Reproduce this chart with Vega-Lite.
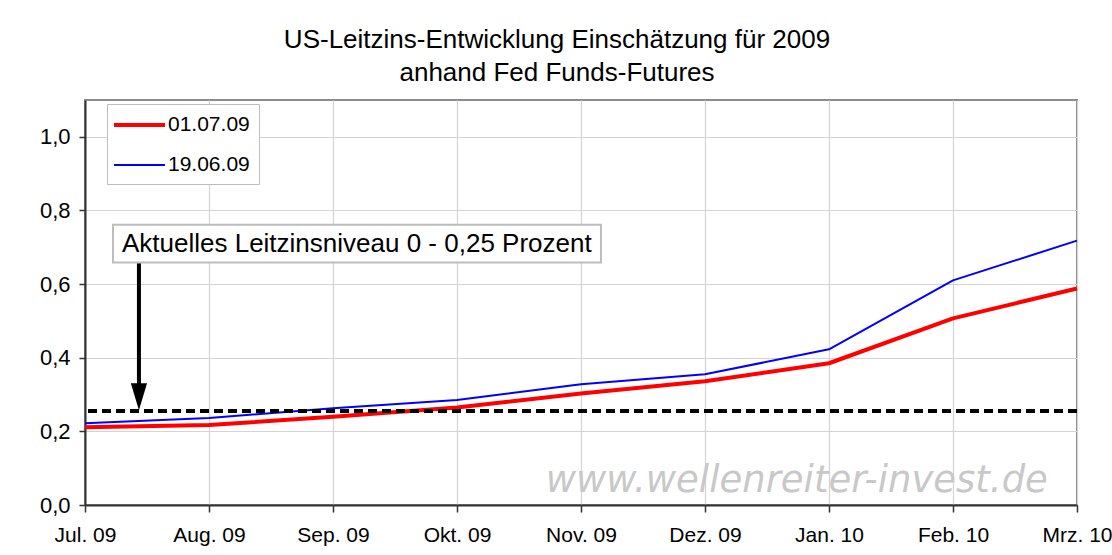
{
  "$schema": "https://vega.github.io/schema/vega-lite/v6.json",
  "width": 992,
  "height": 405,
  "autosize": "none",
  "padding": {"left": 85, "top": 100, "right": 35, "bottom": 50},
  "background": "white",
  "config": {
    "font": "Liberation Sans",
    "view": {"stroke": "#8c8c8c", "strokeWidth": 2},
    "axis": {"labelFont": "Liberation Sans", "labelFontSize": 20, "labelColor": "black", "gridColor": "#d4d4d4", "gridWidth": 1.2, "domainColor": "#333", "domainWidth": 2, "tickColor": "#333", "tickWidth": 1.5, "title": null}
  },
  "title": {
    "text": ["US-Leitzins-Entwicklung Einschätzung für 2009", "anhand Fed Funds-Futures"],
    "font": "Liberation Sans", "fontSize": 26, "fontWeight": "normal", "color": "black",
    "anchor": "middle", "dx": -24, "lineHeight": 33, "offset": 14
  },
  "datasets": {
    "rates": [
      {"m": 0, "month": "Jul. 09", "series": "01.07.09", "value": 0.211},
      {"m": 1, "month": "Aug. 09", "series": "01.07.09", "value": 0.217},
      {"m": 2, "month": "Sep. 09", "series": "01.07.09", "value": 0.240},
      {"m": 3, "month": "Okt. 09", "series": "01.07.09", "value": 0.265},
      {"m": 4, "month": "Nov. 09", "series": "01.07.09", "value": 0.303},
      {"m": 5, "month": "Dez. 09", "series": "01.07.09", "value": 0.336},
      {"m": 6, "month": "Jan. 10", "series": "01.07.09", "value": 0.385},
      {"m": 7, "month": "Feb. 10", "series": "01.07.09", "value": 0.507},
      {"m": 8, "month": "Mrz. 10", "series": "01.07.09", "value": 0.588},
      {"m": 0, "month": "Jul. 09", "series": "19.06.09", "value": 0.222},
      {"m": 1, "month": "Aug. 09", "series": "19.06.09", "value": 0.236},
      {"m": 2, "month": "Sep. 09", "series": "19.06.09", "value": 0.263},
      {"m": 3, "month": "Okt. 09", "series": "19.06.09", "value": 0.285},
      {"m": 4, "month": "Nov. 09", "series": "19.06.09", "value": 0.328},
      {"m": 5, "month": "Dez. 09", "series": "19.06.09", "value": 0.355},
      {"m": 6, "month": "Jan. 10", "series": "19.06.09", "value": 0.423},
      {"m": 7, "month": "Feb. 10", "series": "19.06.09", "value": 0.610},
      {"m": 8, "month": "Mrz. 10", "series": "19.06.09", "value": 0.718}
    ],
    "note": [
      {"x0": 0.226, "x1": 4.161, "y0": 0.6585, "y1": 0.7615, "tx": 0.298, "ty": 0.71, "ax": 0.435, "ay0": 0.6585, "ay1": 0.30, "tipY": 0.294, "level": 0.2555, "label": "Aktuelles Leitzinsniveau 0 - 0,25 Prozent"}
    ],
    "mark": [
      {"wx": 5.74, "wy": 0.065, "text": "www.wellenreiter-invest.de"}
    ]
  },
  "layer": [
    {
      "data": {"name": "mark"},
      "mark": {"type": "text", "font": "DejaVu Sans", "fontStyle": "italic", "fontSize": 37, "color": "#c8c8c8", "align": "center", "baseline": "middle"},
      "encoding": {
        "x": {"field": "wx", "type": "quantitative", "scale": {"domain": [0, 8], "nice": false, "zero": false}},
        "y": {"field": "wy", "type": "quantitative", "scale": {"domain": [0, 1.1], "nice": false}},
        "text": {"field": "text"}
      }
    },
    {
      "data": {"name": "rates"},
      "mark": {"type": "line", "strokeJoin": "round", "strokeCap": "butt"},
      "encoding": {
        "x": {
          "field": "m", "type": "quantitative",
          "scale": {"domain": [0, 8], "nice": false, "zero": false},
          "axis": {"values": [0, 1, 2, 3, 4, 5, 6, 7, 8], "labelExpr": "['Jul. 09','Aug. 09','Sep. 09','Okt. 09','Nov. 09','Dez. 09','Jan. 10','Feb. 10','Mrz. 10'][datum.value]", "labelFontSize": 21, "tickSize": 7, "labelPadding": 12, "labelFlush": false, "labelOverlap": false, "grid": true}
        },
        "y": {
          "field": "value", "type": "quantitative",
          "scale": {"domain": [0, 1.1], "nice": false},
          "axis": {"values": [0, 0.2, 0.4, 0.6, 0.8, 1.0], "labelExpr": "replace(format(datum.value, '.1f'), '.', ',')", "labelFontSize": 22, "tickSize": 6, "labelPadding": 9, "labelFlush": false, "grid": true}
        },
        "color": {
          "field": "series", "type": "nominal",
          "scale": {"domain": ["01.07.09", "19.06.09"], "range": ["#ff0000", "#0000ff"]},
          "legend": {"orient": "none", "legendX": 22, "legendY": 4, "title": null, "symbolType": "M-1.4,0L3.7,0", "symbolSize": 400, "labelFontSize": 21, "labelFont": "Liberation Sans", "labelColor": "black", "labelOffset": 28, "strokeColor": "#bdbdbd", "fillColor": "white", "padding": 9, "rowPadding": 19}
        },
        "strokeWidth": {
          "field": "series", "type": "nominal",
          "scale": {"domain": ["01.07.09", "19.06.09"], "range": [4, 2]},
          "legend": null
        },
        "order": {"field": "m"},
        "detail": {"field": "series"}
      }
    },
    {
      "data": {"name": "note"},
      "mark": {"type": "rule", "color": "black", "strokeWidth": 4, "strokeDash": [9, 5]},
      "encoding": {
        "y": {"field": "level", "type": "quantitative"}
      }
    },
    {
      "data": {"name": "note"},
      "mark": {"type": "rule", "color": "black", "strokeWidth": 4},
      "encoding": {
        "x": {"field": "ax", "type": "quantitative"},
        "y": {"field": "ay0", "type": "quantitative"},
        "y2": {"field": "ay1"}
      }
    },
    {
      "data": {"name": "note"},
      "mark": {"type": "point", "shape": "M0,1L-0.6,-1L0.6,-1Z", "size": 729, "filled": true, "color": "black", "opacity": 1},
      "encoding": {
        "x": {"field": "ax", "type": "quantitative"},
        "y": {"field": "tipY", "type": "quantitative"}
      }
    },
    {
      "data": {"name": "note"},
      "mark": {"type": "rect", "fill": "white", "stroke": "#bdbdbd", "strokeWidth": 2},
      "encoding": {
        "x": {"field": "x0", "type": "quantitative"},
        "x2": {"field": "x1"},
        "y": {"field": "y0", "type": "quantitative"},
        "y2": {"field": "y1"}
      }
    },
    {
      "data": {"name": "note"},
      "mark": {"type": "text", "font": "Liberation Sans", "fontSize": 26, "color": "black", "align": "left", "baseline": "middle"},
      "encoding": {
        "x": {"field": "tx", "type": "quantitative"},
        "y": {"field": "ty", "type": "quantitative"},
        "text": {"field": "label"}
      }
    }
  ]
}
